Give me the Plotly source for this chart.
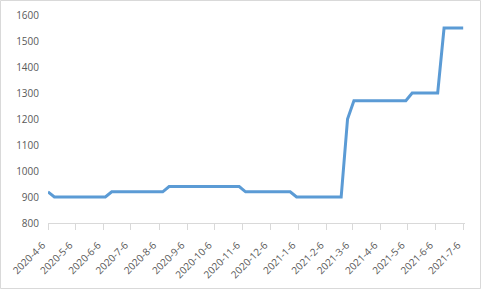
import plotly.graph_objects as go

dates = [
    "2020-04-06", "2020-04-13", "2020-04-20", "2020-04-27", "2020-05-04", "2020-05-11",
    "2020-05-18", "2020-05-25", "2020-06-01", "2020-06-08", "2020-06-15", "2020-06-22",
    "2020-06-29", "2020-07-06", "2020-07-13", "2020-07-20", "2020-07-27", "2020-08-03",
    "2020-08-10", "2020-08-17", "2020-08-24", "2020-08-31", "2020-09-07", "2020-09-14",
    "2020-09-21", "2020-09-28", "2020-10-05", "2020-10-12", "2020-10-19", "2020-10-26",
    "2020-11-02", "2020-11-09", "2020-11-16", "2020-11-23", "2020-11-30", "2020-12-07",
    "2020-12-14", "2020-12-21", "2020-12-28", "2021-01-04", "2021-01-11", "2021-01-18",
    "2021-01-25", "2021-02-01", "2021-02-08", "2021-02-15", "2021-02-22", "2021-03-01",
    "2021-03-08", "2021-03-15", "2021-03-22", "2021-03-29", "2021-04-06", "2021-04-13",
    "2021-04-20", "2021-04-27", "2021-05-04", "2021-05-11", "2021-05-18", "2021-05-25",
    "2021-06-01", "2021-06-08", "2021-06-15", "2021-06-22", "2021-06-29", "2021-07-06",
]
values = [
    920, 900, 900, 900, 900, 900,
    900, 900, 900, 900, 920, 920,
    920, 920, 920, 920, 920, 920,
    920, 940, 940, 940, 940, 940,
    940, 940, 940, 940, 940, 940,
    940, 920, 920, 920, 920, 920,
    920, 920, 920, 900, 900, 900,
    900, 900, 900, 900, 900, 1200,
    1270, 1270, 1270, 1270, 1270, 1270,
    1270, 1270, 1270, 1300, 1300, 1300,
    1300, 1300, 1550, 1550, 1550, 1550,
]
tick_dates = [
    "2020-04-06", "2020-05-06", "2020-06-06", "2020-07-06", "2020-08-06", "2020-09-06",
    "2020-10-06", "2020-11-06", "2020-12-06", "2021-01-06", "2021-02-06", "2021-03-06",
    "2021-04-06", "2021-05-06", "2021-06-06", "2021-07-06",
]
tick_labels = [
    "2020-4-6", "2020-5-6", "2020-6-6", "2020-7-6", "2020-8-6", "2020-9-6",
    "2020-10-6", "2020-11-6", "2020-12-6", "2021-1-6", "2021-2-6", "2021-3-6",
    "2021-4-6", "2021-5-6", "2021-6-6", "2021-7-6",
]
y_ticks = [800, 900, 1000, 1100, 1200, 1300, 1400, 1500, 1600]

W, H = 481, 289
ml, mr, mt, mb = 48, 16, 15, 66
pw, ph = W - ml - mr, H - mt - mb
x_range = ["2020-04-06", "2021-07-08"]

# trailing no-break spaces push the rotated labels a little away from the axis
label_text = [t + "\u00a0" * 3 for t in tick_labels]

fig = go.Figure()
fig.add_trace(go.Scatter(
    x=dates, y=values, mode="lines",
    line=dict(color="#5B9BD5", width=3),
    hoverinfo="skip",
))

font = dict(family="Open Sans, Liberation Sans, sans-serif", size=10, color="#595959")

fig.update_layout(
    width=W, height=H,
    margin=dict(l=ml, r=mr, t=mt, b=mb, pad=0, autoexpand=False),
    paper_bgcolor="white", plot_bgcolor="white",
    showlegend=False,
    font=font,
    xaxis=dict(
        type="date", automargin=False,
        range=x_range,
        tickmode="array", tickvals=tick_dates, ticktext=label_text,
        tickangle=-45, ticks="outside", ticklen=6, tickcolor="#D9D9D9",
        showline=True, linecolor="#D9D9D9", linewidth=1,
        showgrid=False, zeroline=False, tickfont=font,
    ),
    yaxis=dict(
        automargin=False,
        range=[800, 1600], tickmode="array", tickvals=y_ticks,
        showgrid=False, zeroline=False, showline=False, ticks="",
        ticklabelstandoff=8, tickfont=font,
    ),
    shapes=[dict(
        type="rect", xref="paper", yref="paper",
        x0=(-ml + 0.5) / pw, x1=1 + (mr - 0.5) / pw,
        y0=-(mb - 0.5) / ph, y1=1 + (mt - 0.5) / ph,
        line=dict(color="#D9D9D9", width=1), layer="below",
    )],
)

fig.write_html("out.html")
